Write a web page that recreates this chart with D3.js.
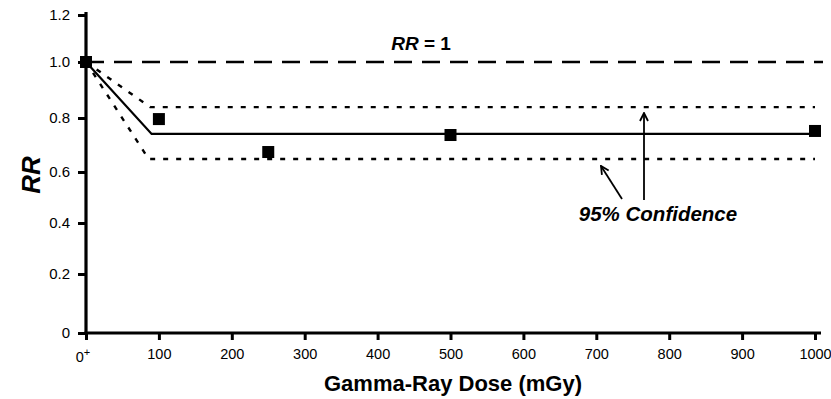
<!DOCTYPE html>
<html>
<head>
<meta charset="utf-8">
<script src="https://cdn.jsdelivr.net/npm/d3@7"></script>
<style>
  body { margin: 0; background: #fff; }
  text { font-family: 'Liberation Sans', Arial, sans-serif; fill: #000; }
</style>
</head>
<body>
<div id="chart"></div>
<script>
// observed RR per dose group
const doses = [0, 100, 250, 500, 1000];
const rrValues = [1.0, 0.796, 0.674, 0.737, 0.752];

// fitted threshold model and 95% confidence bounds
const fitDoses = [0, 90, 1000];
const fitRR = [1.0, 0.741, 0.741];
const upperDoses = [0, 88, 1000];
const upperRR = [1.0, 0.839, 0.839];
const lowerDoses = [0, 86, 1000];
const lowerRR = [1.0, 0.648, 0.648];

const xTicks = [0, 100, 200, 300, 400, 500, 600, 700, 800, 900, 1000];
const yTicks = [0, 0.2, 0.4, 0.6, 0.8, 1.0, 1.2];
const yTickLabels = ['0', '0.2', '0.4', '0.6', '0.8', '1.0', '1.2'];

const W = 831, H = 399;
const svg = d3.select('#chart').append('svg').attr('width', W).attr('height', H);

const x = d3.scaleLinear().domain([0, 1000]).range([86, 815]);
// the scanned original is slightly uneven; map each tick to where it sits
const y = d3.scaleLinear().domain(yTicks).range([333, 274, 223, 172, 118, 62, 15]);

// reference line RR = 1
svg.append('line')
  .attr('x1', x(0)).attr('x2', x(1000) + 8)
  .attr('y1', y(1)).attr('y2', y(1))
  .attr('stroke', '#000').attr('stroke-width', 2.6)
  .attr('stroke-dasharray', '18,10');

const line = d3.line().x(d => x(d[0])).y(d => y(d[1]));

// confidence bounds (dotted)
[[upperDoses, upperRR], [lowerDoses, lowerRR]].forEach(([ds, vs]) => {
  svg.append('path')
    .attr('d', line(ds.map((d, i) => [d, vs[i]])))
    .attr('fill', 'none').attr('stroke', '#000')
    .attr('stroke-width', 2.4).attr('stroke-dasharray', '5,8');
});

// fitted line
svg.append('path')
  .attr('d', line(fitDoses.map((d, i) => [d, fitRR[i]])))
  .attr('fill', 'none').attr('stroke', '#000').attr('stroke-width', 2.2);

// axes
const yAxis = svg.append('g').attr('transform', `translate(${x(0)},0)`)
  .call(d3.axisLeft(y).tickValues(yTicks).tickSize(8).tickPadding(8)
    .tickFormat((d, i) => yTickLabels[i]));
const xAxis = svg.append('g').attr('transform', `translate(0,${y(0)})`)
  .call(d3.axisBottom(x).tickValues(xTicks).tickSize(7).tickPadding(9)
    .tickFormat(d => d === 0 ? '' : d));
[yAxis, xAxis].forEach(g => {
  g.select('.domain').remove();
  g.selectAll('.tick line').attr('stroke', '#000').attr('stroke-width', 3);
  g.selectAll('.tick text').style('font-size', '14.5px')
    .style('font-family', "'Liberation Sans', Arial, sans-serif").attr('fill', '#000');
});
yAxis.selectAll('.tick text').style('font-size', '15px');
svg.append('line').attr('x1', x(0)).attr('x2', x(0)).attr('y1', y(1.2) - 3).attr('y2', y(0) + 1.5)
  .attr('stroke', '#000').attr('stroke-width', 3.2);
svg.append('line').attr('x1', x(0) - 1.5).attr('x2', x(1000) + 6).attr('y1', y(0)).attr('y2', y(0))
  .attr('stroke', '#000').attr('stroke-width', 3.2);

// 0+ label
const zeroLbl = svg.append('text').attr('x', x(0) - 3).attr('y', y(0) + 29)
  .attr('text-anchor', 'middle').style('font-size', '14.5px');
zeroLbl.append('tspan').text('0');
zeroLbl.append('tspan').attr('dy', -6).style('font-size', '11px').text('+');

// data points
svg.selectAll('rect.pt').data(doses).enter().append('rect')
  .attr('class', 'pt')
  .attr('x', d => x(d) - 6).attr('y', (d, i) => y(rrValues[i]) - 6)
  .attr('width', 12).attr('height', 12).attr('fill', '#000');

// annotations
const rr = svg.append('text').attr('x', 421).attr('y', 50)
  .attr('text-anchor', 'middle').style('font-size', '19px').style('font-weight', 'bold');
rr.append('tspan').style('font-style', 'italic').text('RR');
rr.append('tspan').text(' = 1');

svg.append('text').attr('x', 658).attr('y', 221).attr('text-anchor', 'middle')
  .style('font-size', '20.5px').style('font-weight', 'bold').style('font-style', 'italic')
  .text('95% Confidence');

svg.append('defs').append('marker').attr('id', 'arr')
  .attr('viewBox', '0 0 10 10').attr('refX', 9).attr('refY', 5)
  .attr('markerWidth', 10).attr('markerHeight', 10).attr('markerUnits', 'userSpaceOnUse')
  .attr('orient', 'auto')
  .append('path').attr('d', 'M1,1 L9,5 L1,9').attr('fill', 'none')
  .attr('stroke', '#000').attr('stroke-width', 1.8);

svg.append('line').attr('x1', 644).attr('y1', 200).attr('x2', 644).attr('y2', 113)
  .attr('stroke', '#000').attr('stroke-width', 1.8).attr('marker-end', 'url(#arr)');
svg.append('line').attr('x1', 622).attr('y1', 199).attr('x2', 601).attr('y2', 166)
  .attr('stroke', '#000').attr('stroke-width', 1.8).attr('marker-end', 'url(#arr)');

// axis titles
svg.append('text').attr('transform', 'translate(40,175) rotate(-90)')
  .attr('text-anchor', 'middle').style('font-size', '26px')
  .style('font-weight', 'bold').style('font-style', 'italic').text('RR');
svg.append('text').attr('x', 453).attr('y', 391).attr('text-anchor', 'middle')
  .style('font-size', '22px').style('font-weight', 'bold').text('Gamma-Ray Dose (mGy)');
</script>
</body>
</html>
